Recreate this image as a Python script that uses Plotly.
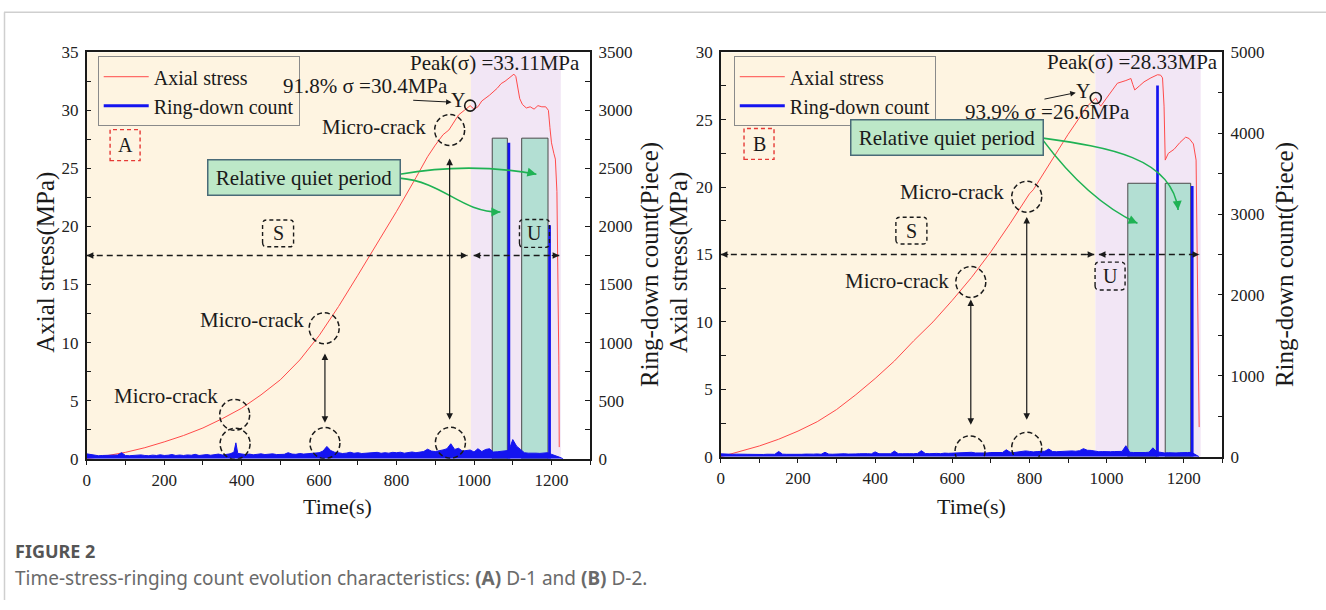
import plotly.graph_objects as go

W, H = 1326, 610
KY, TOP, LEFT = 0.97, 9.0, 3.0


def fx(px):
    return (px - LEFT) / W


def fy(py):
    return 1 - (py / KY - TOP) / H


# ---------------- D-1 (panel A) ----------------
time_a = [0, 25, 50, 100, 150, 200, 250, 300, 350, 400, 450, 500, 550, 600, 650,
          700, 750, 800, 850, 880, 900, 920, 935, 950, 960, 975, 990, 1000, 1010,
          1020, 1040, 1060, 1070, 1080, 1090, 1095, 1103, 1108, 1113, 1118, 1125,
          1135, 1145, 1155, 1165, 1175, 1185, 1192, 1196, 1200, 1206, 1210, 1214,
          1217, 1219, 1220]
stress_a = [0.0, 0.1, 0.25, 0.55, 0.95, 1.45, 2.0, 2.65, 3.45, 4.35, 5.5, 6.8, 8.5,
            10.6, 13.1, 15.8, 18.5, 21.3, 24.2, 26.0, 27.0, 27.9, 28.3, 29.1, 29.6,
            30.0, 30.4, 30.1, 30.3, 30.8, 31.3, 31.9, 32.3, 32.5, 32.8, 32.9, 33.11,
            32.9, 32.0, 31.0, 30.5, 30.2, 30.3, 30.1, 30.4, 30.3, 30.3, 30.0, 28.5,
            27.2, 26.3, 25.8, 23.0, 16.0, 8.0, 1.0]

ring_time_a = [0, 10, 20, 30, 40, 50, 60, 70, 80, 90,
               100, 110, 120, 130, 140, 150, 160, 170, 180, 190,
               200, 210, 220, 230, 240, 250, 260, 270, 280, 290,
               300, 310, 320, 330, 340, 350, 360, 370, 380, 385, 390,
               400, 410, 420, 430, 440, 450, 460, 470, 480, 490,
               500, 510, 520, 530, 540, 550, 560, 570, 580, 590,
               600, 610, 620, 630, 640, 650, 660, 670, 680, 690,
               700, 710, 720, 730, 740, 750, 760, 770, 780, 790,
               800, 810, 820, 830, 840, 850, 860, 870, 880, 890,
               900, 910, 920, 930, 940, 950, 960, 970, 980, 990,
               1000, 1010, 1020, 1030, 1040, 1050, 1060, 1070, 1080, 1090,
               1100, 1110, 1120, 1130, 1140, 1150, 1160, 1170, 1180, 1190,
               1200, 1210, 1220, 1230]
ring_a = [42, 35, 28, 26, 28, 30, 26, 28, 32, 52,
          28, 26, 30, 28, 33, 28, 26, 31, 28, 34,
          28, 30, 36, 28, 32, 28, 33, 30, 38, 28,
          32, 36, 30, 34, 40, 32, 36, 42, 56, 137, 46,
          38, 36, 40, 34, 38, 42, 36, 38, 42, 36,
          40, 38, 52, 40, 38, 45, 40, 42, 47, 45,
          52, 66, 106, 70, 56, 52, 45, 48, 56, 47,
          52, 45, 48, 47, 52, 55, 47, 52, 48, 55,
          52, 56, 48, 55, 58, 52, 56, 62, 82, 66,
          62, 66, 76, 86, 129, 80, 90, 66, 70, 75,
          58, 86, 62, 80, 86, 58, 60, 62, 66, 72,
          165, 108, 80, 52, 48, 50, 48, 46, 50, 52,
          38, 28, 14, 0]
burst_time_a = [1090, 1195]
burst_a = [2720, 2010]

# ---------------- D-2 (panel B) ----------------
time_b = [0, 50, 100, 150, 200, 250, 300, 350, 400, 450, 500, 550, 600, 650, 700,
          750, 790, 800, 810, 850, 900, 950, 972, 980, 985, 1000, 1028, 1050, 1063,
          1068, 1073, 1085, 1097, 1115, 1132, 1140, 1145, 1149, 1152, 1160, 1175,
          1190, 1205, 1214, 1225, 1232, 1235, 1238, 1240]
stress_b = [0.0, 0.4, 0.8, 1.3, 1.9, 2.6, 3.5, 4.6, 5.8, 7.1, 8.6, 10.0, 11.6, 13.3,
            15.2, 17.3, 19.1, 19.5, 19.8, 21.6, 23.9, 26.0, 26.6, 26.2, 26.0, 26.6,
            27.7, 27.9, 28.05, 27.6, 27.2, 27.5, 27.8, 28.1, 28.33, 28.3, 28.1, 26.0,
            22.0, 22.5, 22.8, 23.3, 23.7, 23.6, 23.2, 22.0, 15.0, 8.0, 2.2]

ring_time_b = [0, 10, 20, 30, 40, 50, 60, 70, 80, 90,
               100, 110, 120, 130, 140, 150, 160, 170, 180, 190,
               200, 210, 220, 230, 240, 250, 260, 270, 280, 290,
               300, 310, 320, 330, 340, 350, 360, 370, 380, 390,
               400, 410, 420, 430, 440, 450, 460, 470, 480, 490,
               500, 510, 520, 530, 540, 550, 560, 570, 580, 590,
               600, 610, 620, 630, 640, 650, 660, 670, 680, 690,
               700, 710, 720, 730, 740, 750, 760, 770, 780, 790,
               800, 810, 820, 830, 840, 850, 860, 870, 880, 890,
               900, 910, 920, 930, 940, 950, 960, 970, 980, 990,
               1000, 1010, 1020, 1030, 1040, 1050, 1060, 1070, 1080, 1090,
               1100, 1110, 1120, 1130, 1140, 1150, 1160, 1170, 1180, 1190,
               1200, 1210, 1220, 1230, 1240]
ring_b = [36, 32, 28, 30, 32, 28, 31, 30, 28, 32,
          30, 28, 31, 33, 30, 65, 32, 30, 28, 33,
          31, 30, 33, 28, 32, 35, 30, 55, 32, 31,
          35, 32, 37, 33, 31, 35, 37, 33, 38, 35,
          60, 37, 35, 38, 37, 70, 38, 37, 41, 38,
          37, 41, 75, 40, 38, 44, 41, 38, 45, 42,
          44, 40, 45, 50, 44, 55, 47, 45, 50, 47,
          52, 50, 54, 52, 86, 56, 52, 58, 62, 72,
          66, 60, 64, 62, 68, 95, 64, 62, 66, 68,
          70, 72, 68, 75, 100, 80, 78, 66, 62, 64,
          60, 62, 64, 62, 66, 136, 55, 52, 50, 55,
          52, 56, 110, 62, 50, 47, 50, 45, 47, 50,
          47, 52, 54, 32, 0]
burst_time_b = [1132, 1222]
burst_b = [4590, 3345]

# stage limits, quiet periods and key stress points
stage_a = {"S": (0, 992), "U": (992, 1224)}
stage_b = {"S": (0, 971), "U": (971, 1244)}
quiet_a = [(1047, 1086), (1123, 1191)]
quiet_b = [(1055, 1129), (1152, 1218)]
quiet_top_a = 2760
quiet_top_b = 3380
yield_a = (990, 30.4)
yield_b = (972, 26.6)

SERIF = "Liberation Serif"
INK = "#1a1a1a"
RED = "#ff4a4a"
BLUE = "#1414f0"
ORANGE_BG = "#fef4e1"
PURPLE_BG = "#f2e6f5"
QUIET_FILL = "#b3dfd3"
BOX_FILL = "#bde8c8"
GREEN = "#1fb254"

fig = go.Figure()
shapes = []
ann = []


def txt(x, y, s, xref, yref, size=21, **kw):
    d = dict(x=x, y=y, xref=xref, yref=yref, text=s, showarrow=False,
             font=dict(family=SERIF, size=size, color=INK))
    d.update(kw)
    ann.append(d)


def arrow(x, y, ax, ay, xref, yref, both=False, color=INK, width=1.2):
    ann.append(dict(x=x, y=y, ax=ax, ay=ay, xref=xref, yref=yref,
                    axref=xref, ayref=yref, text="", showarrow=True,
                    arrowhead=2, arrowsize=1.1, arrowwidth=width,
                    arrowcolor=color, arrowside="end+start" if both else "end",
                    standoff=0, startstandoff=0))


def head(x, y, dx, dy, xref, yref, color=INK, size=1.1, width=1.2):
    # short arrow used only for its head; dx, dy are tail offsets in pixels
    ann.append(dict(x=x, y=y, ax=dx, ay=dy, xref=xref, yref=yref, text="",
                    showarrow=True, arrowhead=2, arrowsize=size, arrowwidth=width,
                    arrowcolor=color, standoff=0))


def circle(x, y, xref, yref, r=15):
    ry = r / KY
    shapes.append(dict(type="circle", xref=xref, yref=yref, xsizemode="pixel",
                       ysizemode="pixel", xanchor=x, yanchor=y,
                       x0=-r, x1=r, y0=-ry, y1=ry,
                       line=dict(color=INK, width=1.5, dash="5px,3px"), layer="above"))


def dashed_box(x, y, xref, yref, w, h, color=INK, rounded=True):
    a, b, c = w / 2, h / 2 / KY, 4 if rounded else 0
    path = (f"M {-a},{-b + c} Q {-a},{-b} {-a + c},{-b} L {a - c},{-b} Q {a},{-b} {a},{-b + c} "
            f"L {a},{b - c} Q {a},{b} {a - c},{b} L {-a + c},{b} Q {-a},{b} {-a},{b - c} Z")
    shapes.append(dict(type="path", xref=xref, yref=yref, xsizemode="pixel",
                       ysizemode="pixel", xanchor=x, yanchor=y, path=path,
                       line=dict(color=color, width=1.4, dash="4px,3px"), layer="above"))


def panel(xa, ya, ya2, t, s, rt, r, bt, bv, stage, quiet, qtop, ymax,
          yld, legend, bar_w):
    # stage backgrounds
    shapes.append(dict(type="rect", xref=xa, yref=ya, x0=stage["S"][0], x1=stage["S"][1],
                       y0=0, y1=ymax, fillcolor=ORANGE_BG, line_width=0, layer="below"))
    shapes.append(dict(type="rect", xref=xa, yref=ya, x0=stage["U"][0], x1=stage["U"][1],
                       y0=0, y1=ymax, fillcolor=PURPLE_BG, line_width=0, layer="below"))
    # relative quiet periods
    for q0, q1 in quiet:
        shapes.append(dict(type="rect", xref=xa, yref=ya2, x0=q0, x1=q1, y0=0, y1=qtop,
                           fillcolor=QUIET_FILL, line=dict(color="#4a4a4a", width=1),
                           layer="below"))
    fig.add_trace(go.Scatter(x=t, y=s, mode="lines", name="Axial stress",
                             line=dict(color=RED, width=1), xaxis=xa, yaxis=ya,
                             legend=legend, showlegend=True))
    fig.add_trace(go.Scatter(x=rt, y=r, mode="lines", name="Ring-down count",
                             line=dict(color=BLUE, width=1), fill="tozeroy",
                             fillcolor=BLUE, xaxis=xa, yaxis=ya2, showlegend=False,
                             legend=legend))
    fig.add_trace(go.Bar(x=bt, y=bv, width=bar_w, marker=dict(color=BLUE, line_width=0),
                         xaxis=xa, yaxis=ya2, showlegend=False, legend=legend,
                         name="Ring-down count"))
    fig.add_trace(go.Scatter(x=[None], y=[None], mode="lines", name="Ring-down count",
                             line=dict(color=BLUE, width=3), xaxis=xa, yaxis=ya2,
                             legend=legend))
    fig.add_trace(go.Scatter(x=[yld[0]], y=[yld[1]], mode="markers",
                             marker=dict(symbol="circle-open", size=11,
                                         line=dict(color=INK, width=1.6), color=INK),
                             xaxis=xa, yaxis=ya, showlegend=False, hoverinfo="skip"))


# ---- panel A decorations ----
panel("x", "y", "y2", time_a, stress_a, ring_time_a, ring_a, burst_time_a, burst_a,
      stage_a, quiet_a, quiet_top_a, 35, yield_a, "legend", 7)

txt(1053, 34.1, "Peak(σ) =33.11MPa", "x", "y")
txt(721, 32.1, "91.8% σ =30.4MPa", "x", "y")
txt(958, 30.87, "Y", "x", "y", size=20)
arrow(942, 30.7, 839, 30.87, "x", "y", width=1)
dashed_box(99, 27.0, "x", "y", 30, 30, color="#e53935", rounded=False)
txt(99, 27.0, "A", "x", "y", size=20)
txt(345, 5.42, "Micro-crack", "x", "y", xanchor="right")
circle(382, 3.78, "x", "y")
circle(383, 1.29, "x", "y")
txt(566, 11.95, "Micro-crack", "x", "y", xanchor="right")
circle(613, 11.24, "x", "y")
circle(615, 1.35, "x", "y")
arrow(615, 3.1, 615, 9.2, "x", "y", both=True)
txt(880, 28.55, "Micro-crack", "x", "y", xanchor="right")
circle(937, 28.3, "x", "y")
circle(939, 1.38, "x", "y")
arrow(937, 3.35, 937, 25.97, "x", "y", both=True)
# stage arrows
shapes.append(dict(type="line", xref="x", yref="y", x0=0, x1=983, y0=17.5, y1=17.5,
                   line=dict(color=INK, width=1.4, dash="6px,4px"), layer="above"))
shapes.append(dict(type="line", xref="x", yref="y", x0=999, x1=1220, y0=17.5, y1=17.5,
                   line=dict(color=INK, width=1.4, dash="6px,4px"), layer="above"))
head(0, 17.5, 9, 0, "x", "y")
head(983, 17.5, -9, 0, "x", "y")
head(999, 17.5, 9, 0, "x", "y")
head(1220, 17.5, -9, 0, "x", "y")
dashed_box(494, 19.4, "x", "y", 31, 26)
txt(494, 19.4, "S", "x", "y", size=20)
dashed_box(1156, 19.4, "x", "y", 30, 27)
txt(1156, 19.4, "U", "x", "y", size=20)
txt(560, 24.2, "Relative quiet period", "x", "y", bgcolor=BOX_FILL,
    bordercolor="#4a6b78", borderwidth=1.5, borderpad=4, width=183, height=26)
shapes.append(dict(type="path", xref="x", yref="y", layer="above",
                   path="M 808,24.5 Q 988,25.54 1161,24.5",
                   line=dict(color=GREEN, width=1.6)))
shapes.append(dict(type="path", xref="x", yref="y", layer="above",
                   path="M 808,24.16 C 924,23.82 963,21.24 1068,21.24",
                   line=dict(color=GREEN, width=1.6)))
head(1161, 24.5, -9, -2, "x", "y", color=GREEN, size=1.2, width=1.5)
head(1068, 21.24, -9, 0, "x", "y", color=GREEN, size=1.2, width=1.5)

# ---- panel B decorations ----
panel("x2", "y3", "y4", time_b, stress_b, ring_time_b, ring_b, burst_time_b, burst_b,
      stage_b, quiet_b, quiet_top_b, 30, yield_b, "legend2", 7)

txt(1067, 29.26, "Peak(σ) =28.33MPa", "x2", "y3")
txt(848, 25.55, "93.9% σ =26.6MPa", "x2", "y3")
txt(938, 27.1, "Y", "x2", "y3", size=20)
arrow(920, 27.0, 835, 26.5, "x2", "y3", width=1)
dashed_box(99, 23.2, "x2", "y3", 30, 30, color="#e53935", rounded=False)
txt(99, 23.2, "B", "x2", "y3", size=20)
txt(597, 13.04, "Micro-crack", "x2", "y3", xanchor="right")
circle(648, 12.96, "x2", "y3")
circle(646, 0.4, "x2", "y3")
arrow(648, 2.37, 648, 11.78, "x2", "y3", both=True)
txt(739, 19.65, "Micro-crack", "x2", "y3", xanchor="right")
circle(793, 19.28, "x2", "y3")
circle(793, 0.67, "x2", "y3")
arrow(793, 2.74, 793, 17.9, "x2", "y3", both=True)
shapes.append(dict(type="line", xref="x2", yref="y3", x0=0, x1=968, y0=15, y1=15,
                   line=dict(color=INK, width=1.4, dash="6px,4px"), layer="above"))
shapes.append(dict(type="line", xref="x2", yref="y3", x0=980, x1=1240, y0=15, y1=15,
                   line=dict(color=INK, width=1.4, dash="6px,4px"), layer="above"))
head(0, 15, 9, 0, "x2", "y3")
head(968, 15, -9, 0, "x2", "y3")
head(980, 15, 9, 0, "x2", "y3")
head(1240, 15, -9, 0, "x2", "y3")
dashed_box(494, 16.77, "x2", "y3", 31, 26)
txt(494, 16.77, "S", "x2", "y3", size=20)
dashed_box(1009, 13.4, "x2", "y3", 30, 27)
txt(1009, 13.4, "U", "x2", "y3", size=20)
txt(587, 23.67, "Relative quiet period", "x2", "y3", bgcolor=BOX_FILL,
    bordercolor="#4a6b78", borderwidth=1.5, borderpad=4, width=183, height=26)
shapes.append(dict(type="path", xref="x2", yref="y3", layer="above",
                   path="M 835,23.48 Q 951,19.04 1080,17.31",
                   line=dict(color=GREEN, width=1.6)))
shapes.append(dict(type="path", xref="x2", yref="y3", layer="above",
                   path="M 835,23.63 C 1003,22.96 1169,22.22 1185.5,18.3",
                   line=dict(color=GREEN, width=1.6)))
head(1080, 17.31, -9, -4, "x2", "y3", color=GREEN, size=1.2, width=1.5)
head(1185.5, 18.3, -1, -10, "x2", "y3", color=GREEN, size=1.2, width=1.5)


# ---- axis titles ----
def ptxt(px, py, s, **kw):
    txt(fx(px), fy(py), s, "paper", "paper", xanchor="center", yanchor="middle", **kw)


ptxt(45, 262, "Axial stress(MPa)", size=25, textangle=-90)
ptxt(651, 265, "Ring-down count(Piece)", size=25, textangle=-90)
ptxt(338, 507, "Time(s)", size=22)
ptxt(680, 262, "Axial stress(MPa)", size=25, textangle=-90)
ptxt(1288, 265, "Ring-down count(Piece)", size=25, textangle=-90)
ptxt(973, 507, "Time(s)", size=22)

# ---- caption ----
ann.append(dict(x=fx(12), y=fy(551), xref="paper", yref="paper", xanchor="left",
                yanchor="middle", showarrow=False, text="<b>FIGURE 2</b>",
                font=dict(family="Noto Sans", size=18, color="#555555")))
ann.append(dict(x=fx(12), y=fy(578), xref="paper", yref="paper", xanchor="left",
                yanchor="middle", showarrow=False,
                text="Time-stress-ringing count evolution characteristics: <b>(A)</b> D-1 and <b>(B)</b> D-2.",
                font=dict(family="Noto Sans", size=19, color="#6a6a6a")))

# ---- outer frame ----
shapes.append(dict(type="line", xref="paper", yref="paper", x0=fx(3), x1=1,
                   y0=fy(12), y1=fy(12), line=dict(color="#cfcfcf", width=1.5)))
shapes.append(dict(type="line", xref="paper", yref="paper", x0=fx(3.5), x1=fx(3.5),
                   y0=0, y1=fy(12), line=dict(color="#cfcfcf", width=1.5)))

tickfont = dict(family=SERIF, size=17, color="#222222")


def xax(domain, anchor):
    return dict(domain=domain, anchor=anchor, range=[0, 1300], tick0=0, dtick=200,
                ticks="outside", ticklen=5, tickwidth=1.2, tickcolor=INK,
                minor=dict(dtick=100, ticks="outside", ticklen=5, tickwidth=1.2,
                           tickcolor=INK),
                showline=True, mirror=True, linecolor=INK, linewidth=1.5,
                showgrid=False, zeroline=False, tickfont=tickfont)


def yax(domain, anchor, rng, dt, mdt, side="left", overlay=None):
    d = dict(anchor=anchor, range=rng, tick0=0, dtick=dt, ticks="inside", ticklen=5,
             tickwidth=1.2, tickcolor=INK,
             minor=dict(dtick=mdt, ticks="inside", ticklen=5, tickwidth=1.2,
                        tickcolor=INK),
             showline=True, linecolor=INK, linewidth=1.5, showgrid=False,
             zeroline=False, tickfont=tickfont, side=side, ticklabelstandoff=3)
    if overlay:
        d["overlaying"] = overlay
    else:
        d["domain"] = domain
    return d


legend_style = dict(xanchor="left", yanchor="top", bgcolor="rgba(0,0,0,0)",
                    bordercolor="#8a8a8a", borderwidth=1, itemwidth=45,
                    font=dict(family=SERIF, size=20, color=INK), tracegroupgap=0)

fig.update_layout(
    width=W, height=H, autosize=False,
    margin=dict(l=0, r=0, t=0, b=0),
    paper_bgcolor="white", plot_bgcolor="white",
    barmode="overlay",
    xaxis=xax([fx(86), fx(591)], "y"),
    yaxis=yax([fy(459), fy(52)], "x", [0, 35], 5, 2.5),
    yaxis2=yax(None, "x", [0, 3500], 500, 250, side="right", overlay="y"),
    xaxis2=xax([fx(722), fx(1225)], "y3"),
    yaxis3=yax([fy(457), fy(52)], "x2", [0, 30], 5, 2.5),
    yaxis4=yax(None, "x2", [0, 5000], 1000, 500, side="right", overlay="y3"),
    legend=dict(x=fx(97), y=fy(56), **legend_style),
    legend2=dict(x=fx(735), y=fy(56), **legend_style),
    shapes=shapes,
    annotations=ann,
    showlegend=True,
)

fig.write_html("out.html")
